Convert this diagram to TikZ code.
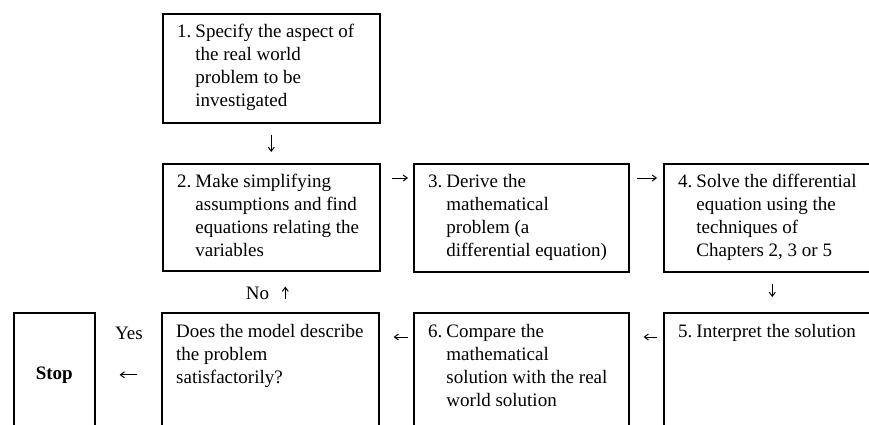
\documentclass[tikz,border=0pt]{standalone}
\usepackage{fontspec}
\setmainfont{Liberation Serif}
\usetikzlibrary{calc,arrows.meta}
% numbered step: number, then the wrapped lines with a hanging indent
\newcommand\steptext[2]{#1\hspace{4pt}\begin{tabular}[t]{@{}l@{}}#2\end{tabular}}
\begin{document}
\begin{tikzpicture}[x=1pt,y=1pt,
  box/.style={draw, line width=1.6pt, inner sep=0pt, anchor=north west,
              minimum width=217pt, minimum height=108pt},
  lowbox/.style={box, minimum height=124pt},
  txt/.style={inner sep=0pt, anchor=base west, font=\fontsize{19}{23}\selectfont},
  arr/.style={-{Straight Barb[length=4pt,width=6pt]}, line width=1pt},
]
\useasboundingbox (0,0) rectangle (869,-424);
\clip (0,0) rectangle (869,-424);

% boxes
\node[box, minimum height=109pt] (b1) at (162,-13) {};
\node[box, minimum height=107pt] (b2) at (162,-163) {};
\node[box, minimum width=215pt] (b3) at (413,-163) {};
\node[box] (b4) at (663,-163) {};
\node[lowbox] (b5) at (663,-312) {};
\node[lowbox, minimum width=215pt] (b6) at (413,-312) {};
\node[lowbox] (bq) at (161,-312) {};
\node[lowbox, minimum width=81pt, font=\fontsize{19}{23}\selectfont\bfseries] (stop) at (13,-312) {Stop};

% box texts
\node[txt] (t1) at ($(b1.north west)+(15,-24)$)
  {\steptext{1.}{Specify the aspect of\\the real world\\problem to be\\investigated}};
\node[txt] (t2) at ($(b2.north west)+(15,-24)$)
  {\steptext{2.}{Make simplifying\\assumptions and find\\equations relating the\\variables}};
\node[txt] (t3) at ($(b3.north west)+(15,-24)$)
  {\steptext{3.}{Derive the\\mathematical\\problem (a\\differential equation)}};
\node[txt] (t4) at ($(b4.north west)+(15,-24)$)
  {\steptext{4.}{Solve the differential\\equation using the\\techniques of\\Chapters 2, 3 or 5}};
\node[txt] (t5) at ($(b5.north west)+(15,-25)$)
  {\steptext{5.}{Interpret the solution}};
\node[txt] (t6) at ($(b6.north west)+(15,-25)$)
  {\steptext{6.}{Compare the\\mathematical\\solution with the real\\world solution}};
\node[txt] (tq) at ($(bq.north west)+(15,-25)$)
  {\begin{tabular}[t]{@{}l@{}}Does the model describe\\the problem\\satisfactorily?\end{tabular}};

% connectors
\draw[arr] ($(b1.south)+(0,-11)$) -- ($(b2.north)+(0,11)$);
\draw[arr] ($(b2.north east)+(11,-15)$) -- ($(b3.north west)+(-5,-15)$);
\draw[arr] ($(b3.north east)+(7,-15)$) -- ($(b4.north west)+(-6,-15)$);
\draw[arr] ($(b4.south)+(0,-11)$) -- ($(b5.north)+(0,15)$);
\draw[arr] ($(b5.north west)+(-6,-25)$) -- ($(b6.north east)+(14,-25)$);
\draw[arr] ($(b6.north west)+(-5,-25)$) -- ($(bq.north east)+(14,-25)$);
\draw[arr] ($(bq.north)+(15,13)$) -- ($(b2.south)+(14,-15)$);
\draw[arr] ($(bq.west)+(-24,0)$) -- ($(stop.east)+(24,0)$);

% branch labels
\node[txt, anchor=base] (no) at (257.5,-299) {No};
\node[txt, anchor=base] (yes) at (129,-339) {Yes};
\end{tikzpicture}
\end{document}
